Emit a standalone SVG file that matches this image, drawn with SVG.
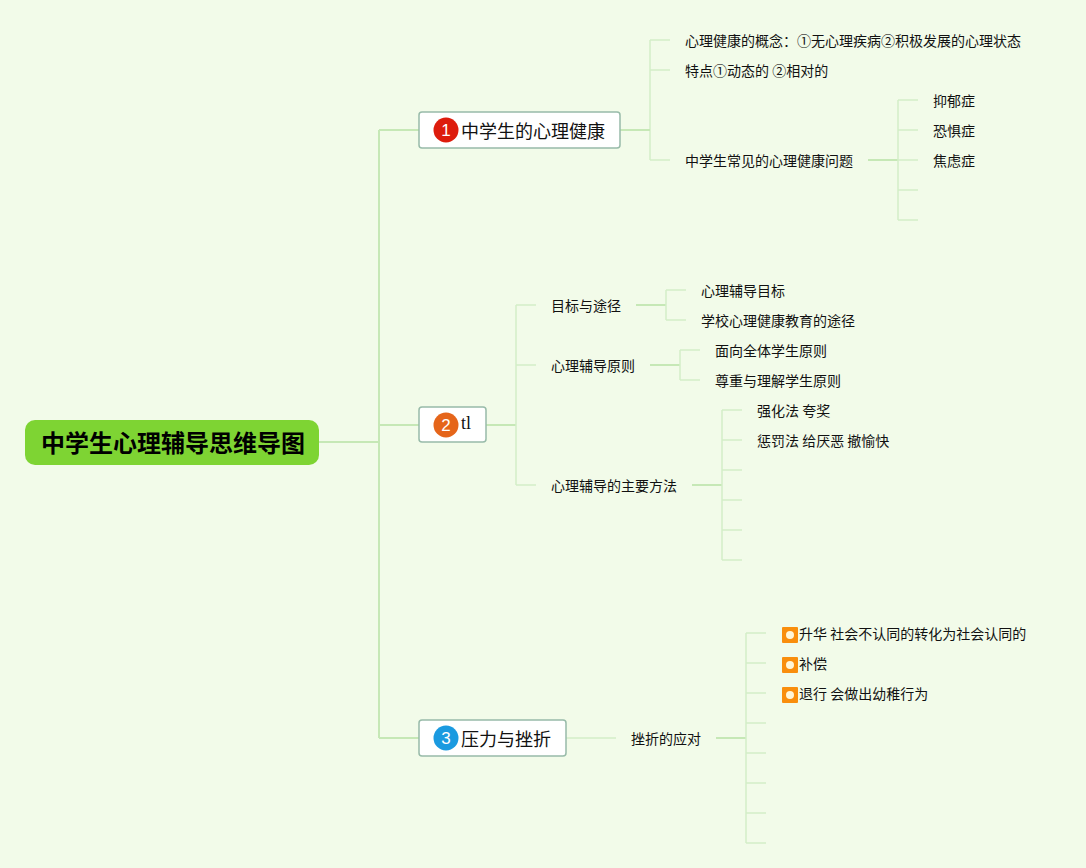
<svg xmlns="http://www.w3.org/2000/svg" width="1086" height="868" viewBox="0 0 1086 868">
<style>
text{font-family:"Noto Sans CJK SC","Liberation Sans",sans-serif;fill:#111}
.t{font-size:14px}
.m{font-size:18px}
.r{font-size:24px;font-weight:700;fill:#000}
.n{font-size:17px;fill:#fff;text-anchor:middle;font-family:"Liberation Sans",sans-serif}
.c{fill:none;stroke:#d3eec7;stroke-width:1.500}
.c2{fill:none;stroke:#c6e8b6;stroke-width:2}
.b{fill:#fff;stroke:#98bba9;stroke-width:1.500}
.i{fill:#f98e0c}
.d{fill:#fff6d8}
</style>
<rect width="1086" height="868" fill="#f2fbe9"/>
<g id="connectors">
<path class="c2" d="M319 442H379M379 130V738M379 130H419M379 425H419M379 738H419"/>
<path class="c" d="M650 40V160M650 40H670M650 70H670M650 160H670"/>
<path class="c2" d="M620 130H650M868 160H898"/>
<path class="c" d="M898 100V220M898 100H918M898 130H918M898 160H918M898 190H918M898 220H918"/>
<path class="c2" d="M486 425H516"/>
<path class="c" d="M516 305V485M516 305H536M516 365H536M516 485H536"/>
<path class="c2" d="M636 305H666M650 365H680M692 485H722"/>
<path class="c" d="M666 290V320M666 290H686M666 320H686"/>
<path class="c" d="M680 350V380M680 350H700M680 380H700"/>
<path class="c" d="M722 410V560M722 410H742M722 440H742M722 470H742M722 500H742M722 530H742M722 560H742"/>
<path class="c" d="M566 738H616"/>
<path class="c2" d="M716 738H746"/>
<path class="c" d="M746 633V843M746 633H766M746 663H766M746 693H766M746 723H766M746 753H766M746 783H766M746 813H766M746 843H766"/>
</g>
<g id="root"><rect x="25" y="420" width="294" height="45" rx="10" fill="#7ed433"/><text class="r" x="41" y="452">中学生心理辅导思维导图</text></g>
<g id="topic1"><rect class="b" x="419" y="112" width="201" height="36" rx="3"/><circle cx="446" cy="130" r="12.500" fill="#dd1c0c"/><text class="n" x="446" y="136">1</text><text class="m" x="461" y="137.500">中学生的心理健康</text></g>
<g id="topic2"><rect class="b" x="419" y="407" width="67" height="35" rx="3"/><circle cx="446" cy="425" r="12.500" fill="#e5651a"/><text class="n" x="446" y="431">2</text><text x="461" y="429" style="font-family:'Liberation Serif',serif;font-size:18px">tl</text></g>
<g id="topic3"><rect class="b" x="419" y="720" width="147" height="36" rx="3"/><circle cx="446" cy="738" r="12.500" fill="#1a9ae0"/><text class="n" x="446" y="744">3</text><text class="m" x="461" y="745.500">压力与挫折</text></g>
<g id="n1a"><text class="t" x="685" y="46">心理健康的概念：①无心理疾病②积极发展的心理状态</text></g>
<g id="n1b"><text class="t" x="685" y="76">特点①动态的 ②相对的</text></g>
<g id="n1c"><text class="t" x="685" y="166">中学生常见的心理健康问题</text></g>
<g id="n1c1"><text class="t" x="933" y="106">抑郁症</text></g>
<g id="n1c2"><text class="t" x="933" y="136">恐惧症</text></g>
<g id="n1c3"><text class="t" x="933" y="166">焦虑症</text></g>
<g id="n2a"><text class="t" x="551" y="311">目标与途径</text></g>
<g id="n2a1"><text class="t" x="701" y="296">心理辅导目标</text></g>
<g id="n2a2"><text class="t" x="701" y="326">学校心理健康教育的途径</text></g>
<g id="n2b"><text class="t" x="551" y="371">心理辅导原则</text></g>
<g id="n2b1"><text class="t" x="715" y="356">面向全体学生原则</text></g>
<g id="n2b2"><text class="t" x="715" y="386">尊重与理解学生原则</text></g>
<g id="n2c"><text class="t" x="551" y="491">心理辅导的主要方法</text></g>
<g id="n2c1"><text class="t" x="757" y="416">强化法 夸奖</text></g>
<g id="n2c2"><text class="t" x="757" y="446">惩罚法 给厌恶 撤愉快</text></g>
<g id="n3a"><text class="t" x="631" y="744">挫折的应对</text></g>
<g id="n3a1"><rect class="i" x="782" y="627" width="16" height="16" rx="1"/><circle class="d" cx="790" cy="635" r="4"/><text class="t" x="799" y="639">升华 社会不认同的转化为社会认同的</text></g>
<g id="n3a2"><rect class="i" x="782" y="657" width="16" height="16" rx="1"/><circle class="d" cx="790" cy="665" r="4"/><text class="t" x="799" y="669">补偿</text></g>
<g id="n3a3"><rect class="i" x="782" y="687" width="16" height="16" rx="1"/><circle class="d" cx="790" cy="695" r="4"/><text class="t" x="799" y="699">退行 会做出幼稚行为</text></g>
</svg>
